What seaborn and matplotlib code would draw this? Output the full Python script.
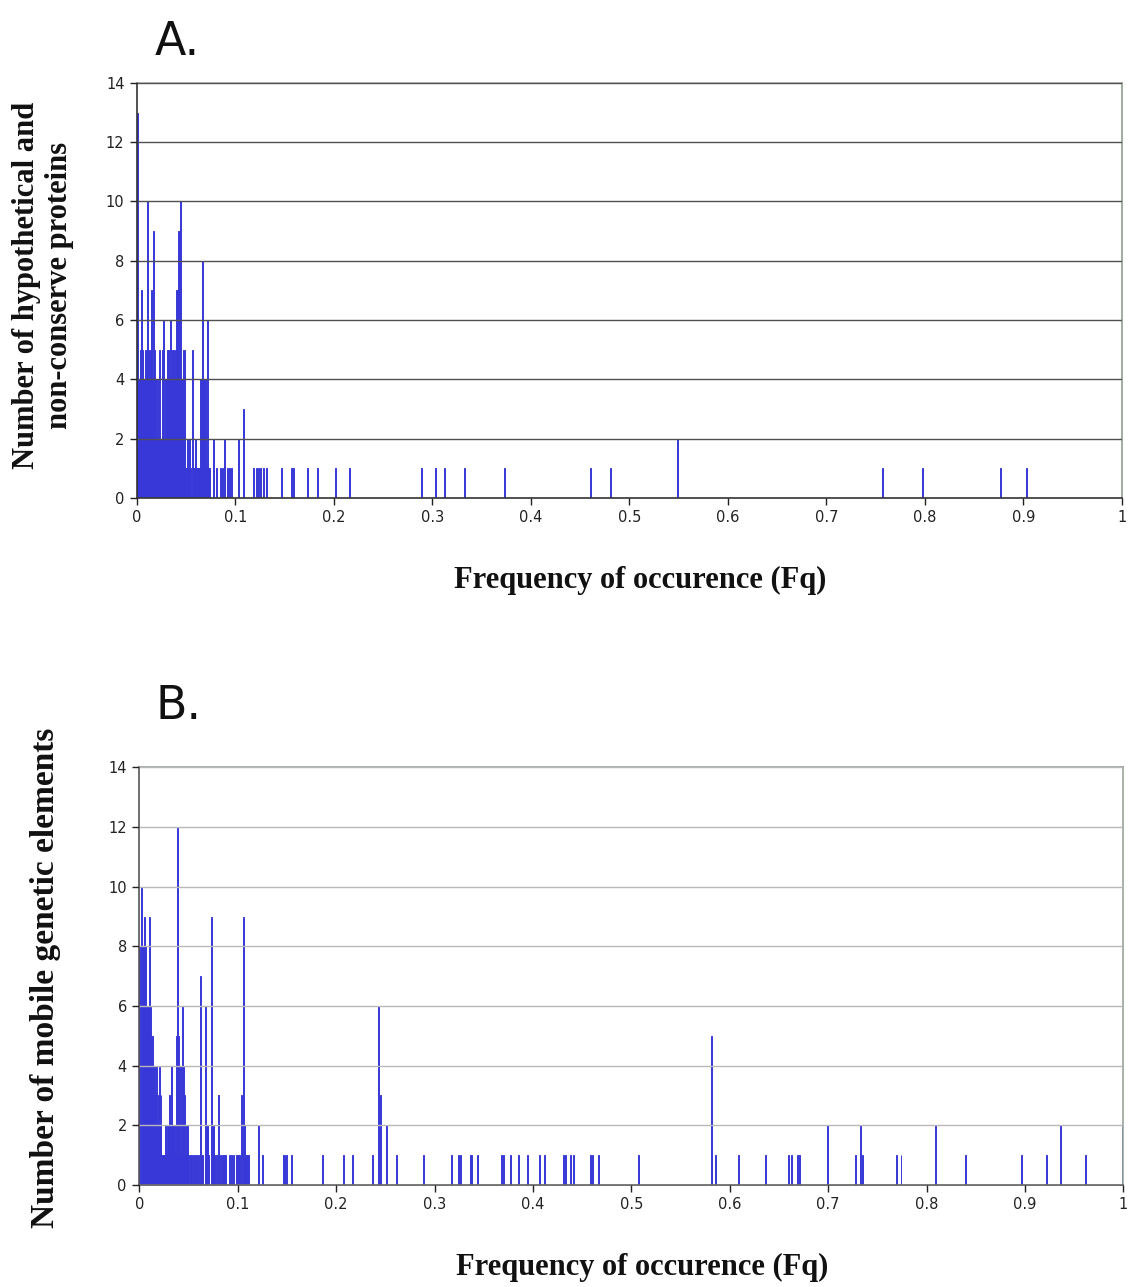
import numpy as np
import pandas as pd
import matplotlib
matplotlib.use("Agg")
import matplotlib.pyplot as plt
import seaborn as sns

# ---------------- data ----------------
a_fq = [0.000, 0.001, 0.002, 0.003, 0.004, 0.005, 0.006, 0.007, 0.008, 0.009,
        0.010, 0.011, 0.012, 0.013, 0.014, 0.015, 0.016, 0.017, 0.018, 0.019,
        0.020, 0.021, 0.022, 0.023, 0.024, 0.025, 0.026, 0.027, 0.028, 0.029,
        0.030, 0.031, 0.032, 0.033, 0.034, 0.035, 0.036, 0.037, 0.038, 0.039,
        0.040, 0.041, 0.042, 0.043, 0.044, 0.045, 0.046, 0.047, 0.048, 0.049,
        0.050, 0.051, 0.052, 0.053, 0.054, 0.056, 0.057, 0.058, 0.059, 0.060,
        0.061, 0.062, 0.063, 0.064, 0.065, 0.066, 0.067, 0.068, 0.069, 0.070,
        0.071, 0.072, 0.073, 0.074, 0.078, 0.081, 0.085, 0.087, 0.089, 0.092,
        0.094, 0.096, 0.103, 0.108, 0.118, 0.121, 0.123, 0.125, 0.128, 0.132,
        0.147, 0.157, 0.159, 0.173, 0.183, 0.202, 0.216, 0.289, 0.303, 0.312,
        0.333, 0.373, 0.460, 0.481, 0.549, 0.757, 0.798, 0.877, 0.903]
a_count = [4, 13, 4, 4, 5, 7, 5, 4, 4, 5,
           4, 10, 5, 4, 5, 7, 4, 9, 5, 4,
           2, 4, 2, 5, 2, 2, 5, 6, 2, 4,
           4, 5, 5, 4, 6, 4, 5, 5, 4, 5,
           7, 7, 9, 9, 10, 4, 4, 5, 5, 1,
           1, 2, 1, 2, 1, 5, 1, 1, 2, 1,
           1, 1, 1, 4, 4, 4, 8, 4, 4, 4,
           1, 6, 1, 1, 2, 1, 1, 1, 2, 1,
           1, 1, 2, 3, 1, 1, 1, 1, 1, 1,
           1, 1, 1, 1, 1, 1, 1, 1, 1, 1,
           1, 1, 1, 1, 2, 1, 1, 1, 1]

b_fq = [0.000, 0.002, 0.003, 0.004, 0.005, 0.006, 0.007, 0.008, 0.009, 0.010,
        0.011, 0.012, 0.013, 0.014, 0.015, 0.016, 0.017, 0.018, 0.019, 0.020,
        0.021, 0.022, 0.023, 0.024, 0.025, 0.026, 0.027, 0.028, 0.029, 0.030,
        0.031, 0.032, 0.033, 0.034, 0.035, 0.036, 0.037, 0.038, 0.039, 0.040,
        0.041, 0.042, 0.043, 0.044, 0.045, 0.046, 0.047, 0.048, 0.049, 0.050,
        0.052, 0.053, 0.055, 0.057, 0.058, 0.060, 0.062, 0.063, 0.064, 0.067,
        0.068, 0.069, 0.070, 0.073, 0.074, 0.075, 0.076, 0.078, 0.080, 0.082,
        0.084, 0.085, 0.086, 0.087, 0.088, 0.092, 0.094, 0.096, 0.099, 0.100,
        0.101, 0.102, 0.104, 0.106, 0.107, 0.108, 0.109, 0.110, 0.111, 0.121,
        0.125, 0.146, 0.148, 0.150, 0.155, 0.186, 0.207, 0.217, 0.237, 0.243,
        0.245, 0.251, 0.261, 0.289, 0.317, 0.324, 0.326, 0.337, 0.338, 0.344,
        0.368, 0.370, 0.377, 0.385, 0.394, 0.407, 0.412, 0.431, 0.433, 0.438,
        0.441, 0.458, 0.460, 0.467, 0.507, 0.581, 0.585, 0.609, 0.636, 0.660,
        0.663, 0.669, 0.671, 0.699, 0.728, 0.733, 0.735, 0.769, 0.774, 0.809,
        0.840, 0.896, 0.922, 0.936, 0.961, 0.999]
b_count = [8, 10, 8, 8, 9, 8, 6, 6, 6, 9,
           6, 5, 5, 4, 4, 3, 4, 2, 3, 4,
           2, 3, 1, 1, 1, 1, 2, 1, 2, 2,
           3, 2, 4, 2, 2, 2, 1, 5, 12, 5,
           1, 4, 1, 6, 4, 3, 1, 2, 2, 1,
           1, 1, 1, 1, 1, 1, 7, 1, 1, 6,
           2, 2, 1, 9, 2, 2, 1, 1, 3, 1,
           1, 1, 1, 1, 1, 1, 1, 1, 1, 1,
           1, 1, 3, 9, 2, 1, 1, 1, 1, 2,
           1, 1, 1, 1, 1, 1, 1, 1, 1, 6,
           3, 2, 1, 1, 1, 1, 1, 1, 1, 1,
           1, 1, 1, 1, 1, 1, 1, 1, 1, 1,
           1, 1, 1, 1, 1, 5, 1, 1, 1, 1,
           1, 1, 1, 2, 1, 2, 1, 1, 1, 2,
           1, 1, 1, 2, 1, 2]

y_ticks = [0, 2, 4, 6, 8, 10, 12, 14]
x_ticks = [0, 0.1, 0.2, 0.3, 0.4, 0.5, 0.6, 0.7, 0.8, 0.9, 1.0]
x_tick_labels = ["0", "0.1", "0.2", "0.3", "0.4", "0.5", "0.6", "0.7", "0.8", "0.9", "1"]

x_title = "Frequency of occurence (Fq)"
a_ytitle = "Number of hypothetical and\nnon-conserve proteins"
b_ytitle = "Number of mobile genetic elements"

# ---------------- style ----------------
sns.set_theme(style="white")
plt.rcParams["font.family"] = ["DejaVu Sans"]

BLUE = "#3838d8"
SERIF = ["Liberation Serif", "DejaVu Serif"]

fig = plt.figure(figsize=(11.32, 12.87), dpi=100)
axA = fig.add_axes([0.1210, 0.6131, 0.8701, 0.3225])
axB = fig.add_axes([0.1231, 0.0793, 0.8693, 0.3244])


def draw_panel(ax, fq, count, grid_color, spine_cols):
    df = pd.DataFrame({"Fq": fq, "n": count})
    sns.histplot(data=df, x="Fq", weights="n", binwidth=0.001,
                 binrange=(-0.0005, 1.0005), color=BLUE, alpha=1.0,
                 edgecolor=BLUE, linewidth=0.7, ax=ax)
    for p in list(ax.patches):
        if p.get_height() == 0:
            p.remove()
    ax.set_xlim(0, 1)
    ax.set_ylim(0, 14)
    ax.set_yticks(y_ticks)
    ax.set_yticklabels([str(v) for v in y_ticks])
    ax.set_xticks(x_ticks)
    ax.set_xticklabels(x_tick_labels)
    ax.set_xlabel("")
    ax.set_ylabel("")
    ax.set_axisbelow(False)
    ax.yaxis.grid(True, color=grid_color, linewidth=1.0, zorder=3)
    ax.xaxis.grid(False)
    ax.tick_params(axis="both", direction="out", length=5, width=1,
                   color="#222222", labelsize=10.5, labelcolor="#222222",
                   bottom=True, left=True, pad=4)
    for side, c in spine_cols.items():
        ax.spines[side].set_visible(True)
        ax.spines[side].set_color(c)
        ax.spines[side].set_linewidth(1.2)


draw_panel(axA, a_fq, a_count, "#505050",
           {"left": "#333333", "bottom": "#333333", "top": "#a0a0a0", "right": "#8fa08f"})
draw_panel(axB, b_fq, b_count, "#b8b8b8",
           {"left": "#555555", "bottom": "#555555", "top": "#9aa59a", "right": "#9aa59a"})

# panel letters
fig.text(0.137, 0.967, "A.", fontsize=33, ha="left", va="center", color="#111111")
fig.text(0.137, 0.4507, "B.", fontsize=33, ha="left", va="center", color="#111111")

# axis titles
fig.text(0.5654, 0.5493, x_title, family=SERIF, fontweight="bold", fontsize=22,
         ha="center", va="center", color="#111111")
fig.text(0.567, 0.0148, x_title, family=SERIF, fontweight="bold", fontsize=22,
         ha="center", va="center", color="#111111")
fig.text(0.038, 0.7786, a_ytitle, family=SERIF, fontweight="bold", fontsize=22,
         ha="center", va="center", rotation=90, multialignment="center",
         linespacing=1.15, color="#111111")
fig.text(0.0398, 0.2400, b_ytitle, family=SERIF, fontweight="bold", fontsize=24,
         ha="center", va="center", rotation=90, color="#111111")

fig.savefig("out.png", dpi=100)
